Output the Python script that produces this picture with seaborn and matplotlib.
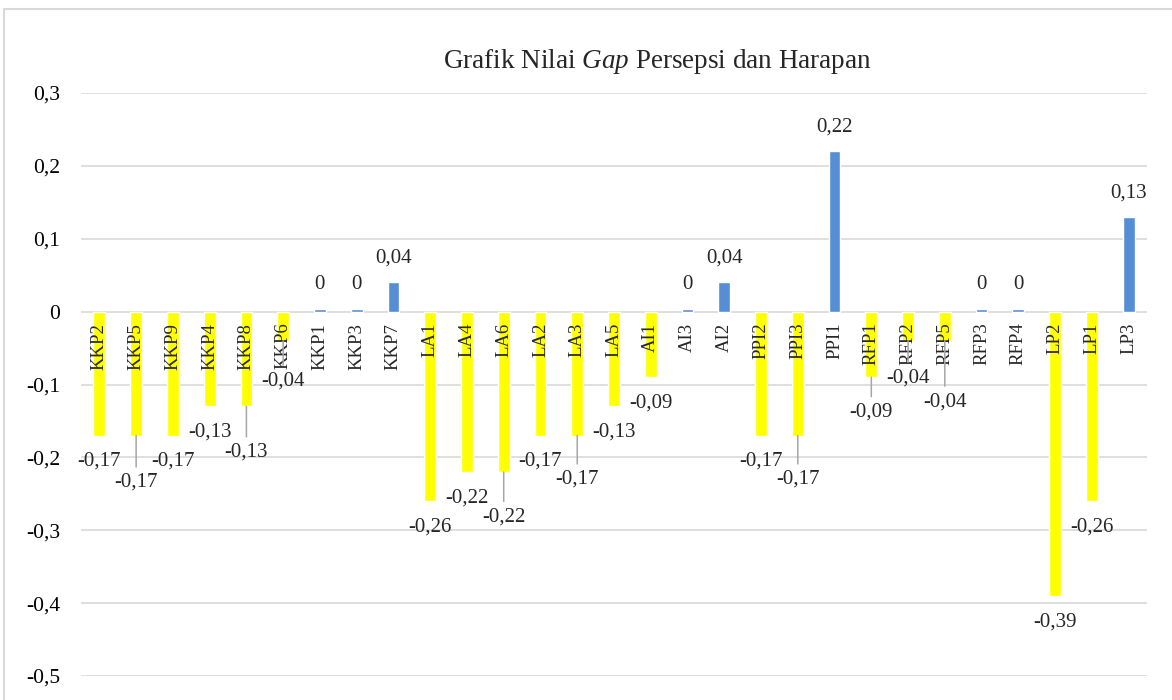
import numpy as np
import pandas as pd
import matplotlib
matplotlib.use("Agg")
import matplotlib.pyplot as plt
import seaborn as sns
from matplotlib.patches import Rectangle

# data gap persepsi - harapan per atribut
kategori = ["KKP2", "KKP5", "KKP9", "KKP4", "KKP8", "KKP6", "KKP1", "KKP3", "KKP7",
            "LA1", "LA4", "LA6", "LA2", "LA3", "LA5", "AI1", "AI3", "AI2",
            "PPI2", "PPI3", "PPI1", "RFP1", "RFP2", "RFP5", "RFP3", "RFP4",
            "LP2", "LP1", "LP3"]
nilai_gap = [-0.17, -0.17, -0.17, -0.13, -0.13, -0.04, 0.004, 0.004, 0.04,
             -0.26, -0.22, -0.22, -0.17, -0.17, -0.13, -0.09, 0.004, 0.04,
             -0.17, -0.17, 0.22, -0.09, -0.04, -0.04, 0.004, 0.004,
             -0.39, -0.26, 0.13]
nilai_sumbu_y = [-0.5, -0.4, -0.3, -0.2, -0.1, 0, 0.1, 0.2, 0.3]

# label yang digeser manual ke bawah (px), pakai garis penunjuk
geser_label = [0, 21, 0, 0, 20, 14, 0, 0, 0,
               0, 0, 19, 0, 18, 0, 0, 0, 0,
               0, 18, 0, 9, 11, 35, 0, 0,
               0, 0, 0]

sns.set_theme(style="white")
plt.rcParams["font.family"] = ["Liberation Serif", "DejaVu Serif"]
plt.rcParams["mathtext.fontset"] = "custom"
plt.rcParams["mathtext.rm"] = "Liberation Serif"
plt.rcParams["mathtext.it"] = "Liberation Serif:italic"

df = pd.DataFrame({"kategori": kategori, "gap": nilai_gap})
df["tanda"] = np.where(df["gap"] < 0, "negatif", "positif")

W, H = 1172, 700
fig = plt.figure(figsize=(W / 100, H / 100), dpi=100)
ax = fig.add_axes([81 / W, 1 - 676 / H, (1147 - 81) / W, (676 - 93) / H])

sns.barplot(data=df, x="kategori", y="gap", hue="tanda", order=kategori,
            palette={"negatif": "#FFFF00", "positif": "#558ED5"},
            dodge=False, width=0.32, saturation=1, legend=False, ax=ax)

ax.set_ylim(-0.5, 0.3)
ax.set_yticks(nilai_sumbu_y)
ax.set_yticklabels([f"{t:g}".replace(".", ",") for t in nilai_sumbu_y])
ax.set_xticks([])
ax.set_xlabel("")
ax.set_ylabel("")
ax.tick_params(axis="y", length=0, pad=15, labelsize=15.5, colors="black")
for s in ax.spines.values():
    s.set_visible(False)
ax.yaxis.grid(True, color="#D9D9D9", lw=1.2)
ax.set_axisbelow(True)

# label kategori di bawah garis nol
for i, k in enumerate(kategori):
    ax.annotate(k, xy=(i, 0), xytext=(0, -11), textcoords="offset pixels",
                rotation=90, ha="center", va="top", fontsize=13.5, zorder=5)

# label nilai
for i, (v, g) in enumerate(zip(nilai_gap, geser_label)):
    teks = f"{round(v, 2):g}".replace(".", ",")
    dy = 24 if v > 0 else -(26 + g)
    kw = {}
    if g > 0:
        kw["arrowprops"] = dict(arrowstyle="-", color="#A6A6A6", lw=1.1,
                                shrinkB=0)
    ax.annotate(teks, xy=(i, v), xytext=(0, dy), textcoords="offset pixels",
                ha="center", va="center", fontsize=15, zorder=6, **kw)

fig.text(657 / W, 1 - 61 / H, r"Grafik Nilai $\mathit{Gap}$ Persepsi dan Harapan",
         ha="center", va="center", fontsize=19.5)

fig.patches.append(Rectangle((4 / W, -0.1), 1.2, 1 - 9 / H + 0.1,
                             transform=fig.transFigure, fill=False,
                             edgecolor="#D9D9D9", lw=1.5))

fig.savefig("out.png", dpi=100)
